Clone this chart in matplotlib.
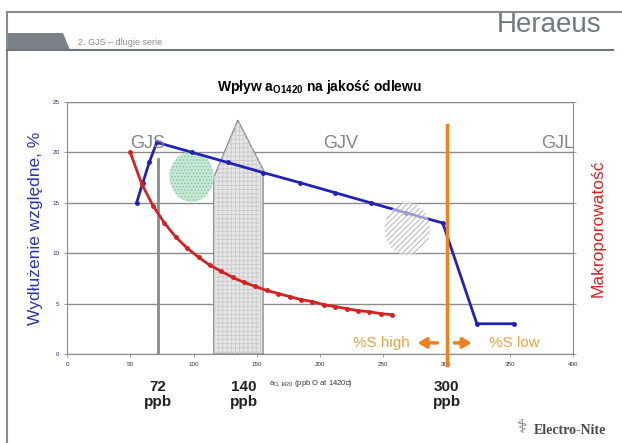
import matplotlib
matplotlib.use('Agg')
import matplotlib.pyplot as plt
from matplotlib.patches import Polygon, Ellipse

plt.rcParams['font.family'] = ['Liberation Sans', 'DejaVu Sans']
plt.rcParams['hatch.linewidth'] = 0.6

# dane
blue_x = [55, 60, 65, 71, 99, 127, 155, 184, 212, 240, 268, 297, 324, 353]
blue_y = [15, 17, 19, 21, 20, 19, 18, 17, 16, 15, 14, 13, 3, 3]

red_x = [50, 59, 68, 77, 86, 95, 104, 113, 122, 131, 140, 149,
         158, 167, 176, 185, 194, 203, 212, 221, 230, 239, 248, 257]
red_y = [20.0, 16.9, 14.7, 13.0, 11.6, 10.5, 9.6, 8.8, 8.2, 7.6, 7.1, 6.7,
         6.3, 6.0, 5.7, 5.4, 5.2, 4.9, 4.7, 4.5, 4.3, 4.2, 4.0, 3.9]

x_ticks = [0, 50, 100, 150, 200, 250, 300, 350, 400]
y_ticks = [0, 5, 10, 15, 20, 25]

markers_ppb = [72, 140, 300]
regions = ['GJS', 'GJV', 'GJL']
region_x = [64, 216, 388]

# strzałka (pięciokąt) 140 ppb
arrow_x = [116, 116, 135, 155, 155]
arrow_y = [0, 17.5, 23.2, 18.3, 0]

blue = '#2222b8'
red = '#d42222'
orange = '#f07f1e'
light_orange = '#e6a447'
grey_txt = '#7f8488'

fig = plt.figure(figsize=(6.22, 4.43), dpi=100)

# tło slajdu
bg = fig.add_axes([0, 0, 1, 1], zorder=-1)
bg.set_xlim(0, 622)
bg.set_ylim(443, 0)
bg.axis('off')
bg.plot([7, 622], [12, 12], color='#8a8a8a', lw=1.5)
bg.plot([7, 7], [12, 443], color='#8a8a8a', lw=1.5)
bg.add_patch(Polygon([[7, 33], [63, 33], [70, 50], [7, 50]], closed=True,
                     facecolor='#7a8288', edgecolor='none'))
bg.plot([7, 613], [50, 50], color='#6e767c', lw=1.5)
bg.text(78, 42, '2. GJS \u2013 dlugie serie', fontsize=6.5, color='#8a8a8a', va='center')
bg.text(601, 32, 'Heraeus', fontsize=20, color='#6f7a80', ha='right', va='baseline')
bg.text(606, 431, 'Electro-Nite', fontsize=10, fontweight='bold', color='#4a4a4a',
        family='Liberation Serif', ha='right', va='center')
bg.text(522, 428, '\u2695', fontsize=14, color='#777777', ha='center', va='center',
        family='DejaVu Sans')

ax = fig.add_axes([67 / 622, 89 / 443, 506 / 622, 252 / 443])
ax.set_facecolor('none')
ax.set_xlim(0, 400)
ax.set_ylim(0, 25)
ax.set_xticks(x_ticks)
ax.set_yticks(y_ticks)
ax.grid(axis='y', color='#8c8c8c', lw=1)
ax.set_axisbelow(True)
for s in ax.spines.values():
    s.set_color('#8c8c8c')
ax.tick_params(axis='both', labelsize=4.5, length=2, width=0.6, color='#8c8c8c')
for lab in ax.get_yticklabels():
    lab.set_color('#2c2c6a')
for lab in ax.get_xticklabels():
    lab.set_color('#333333')

# pięciokąt 140 ppb
poly = list(zip(arrow_x, arrow_y))
ax.add_patch(Polygon(poly, closed=True, facecolor='#e6e6e6', edgecolor='#8a8a8a', lw=1, zorder=2))
ax.add_patch(Polygon(poly, closed=True, facecolor='none', edgecolor='#cacaca', lw=0,
                     hatch='++++', zorder=2))

# linia 72 ppb
ax.plot([markers_ppb[0], markers_ppb[0]], [0, 19.3], color='#8a8a8a', lw=2, zorder=3)

# okrąg zielony
ax.add_patch(Ellipse((98.5, 17.6), 35, 5.0, facecolor='#c8e8d6', edgecolor='none', zorder=2))
ax.add_patch(Ellipse((98.5, 17.6), 35, 5.0, facecolor='none', edgecolor='#7cc69e', lw=0,
                     hatch='.....', zorder=2))

ax.plot(blue_x, blue_y, color=blue, lw=2, marker='o', ms=2.5, zorder=4)

red_ax = ax.twinx()
red_ax.set_ylim(0, 25)
red_ax.set_yticks(y_ticks)
red_ax.set_yticklabels([])
red_ax.tick_params(axis='y', length=2, width=0.6, color='#8c8c8c')
for s in red_ax.spines.values():
    s.set_visible(False)
red_ax.plot(red_x, red_y, color=red, lw=2, marker='o', ms=2.5, zorder=4)

# okrąg szary (nad linią)
red_ax.add_patch(Ellipse((269, 12.4), 36, 5.2, facecolor='white', edgecolor='none',
                         alpha=0.55, zorder=5))
red_ax.add_patch(Ellipse((269, 12.4), 36, 5.2, facecolor='none', edgecolor='#a8a8a8', lw=0,
                         hatch='//////', zorder=5))

# linia 300 ppb
red_ax.plot([markers_ppb[2], markers_ppb[2]], [-1.1, 22.7], color=orange, lw=2.5,
            zorder=6, clip_on=False)
red_ax.annotate('', xy=(275, 1.1), xytext=(295, 1.1), zorder=6,
                arrowprops=dict(arrowstyle='-|>,head_length=0.5,head_width=0.3',
                                color=orange, lw=2.5))
red_ax.annotate('', xy=(322, 1.1), xytext=(304, 1.1), zorder=6,
                arrowprops=dict(arrowstyle='-|>,head_length=0.5,head_width=0.3',
                                color=orange, lw=2.5))
red_ax.text(271, 1.1, '%S high', color=light_orange, fontsize=11, ha='right', va='center')
red_ax.text(354, 1.1, '%S low', color=light_orange, fontsize=11, ha='center', va='center')

for name, xx in zip(regions, region_x):
    red_ax.text(xx, 20.9, name, color=grey_txt, fontsize=13, ha='center', va='center', zorder=3)

ax.set_title('Wpływ a$_{\\mathregular{O1420}}$ na jakość odlewu', fontsize=10,
             fontweight='bold', pad=8)
ax.set_ylabel('Wydłużenie względne, %', color='#2a36b0', fontsize=12.5, labelpad=7)
red_ax.set_ylabel('Makroporowatość', color=red, fontsize=12.5, labelpad=7)

ax.text(160, -3.0, 'a$_{\\mathregular{O,1420}}$ (ppb O at 1420\u2103)', fontsize=5.5,
        ha='left', va='center', color='#333333')
for v in markers_ppb:
    ax.text(v, -4.0, f'{v}\nppb', fontsize=11, fontweight='bold', ha='center', va='center',
            linespacing=1.1, color='#222222')

fig.savefig('out.png', dpi=100)
